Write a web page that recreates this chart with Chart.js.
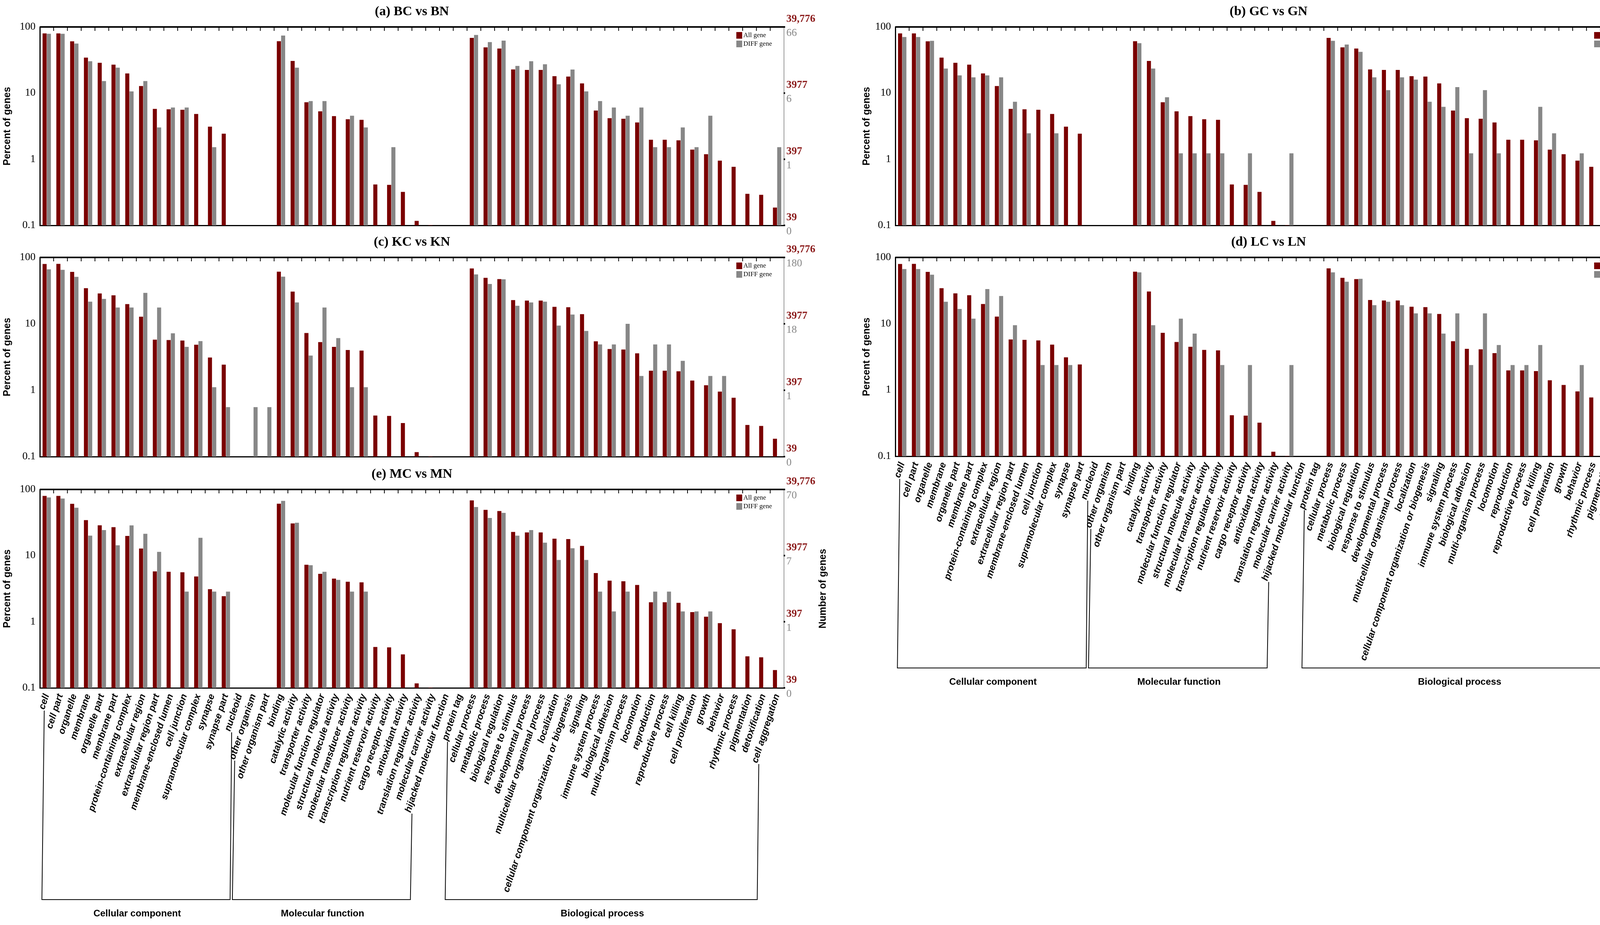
<!DOCTYPE html>
<html>
<head>
<meta charset="utf-8">
<script src="https://cdn.jsdelivr.net/npm/chart.js@4.4.1/dist/chart.umd.min.js"></script>
<style>
  body { margin: 0; background: #fff; width: 4324px; height: 2368px; position: relative; overflow: hidden; }
  canvas { position: absolute; }
</style>
</head>
<body>
<canvas id="pa" style="left:0px;top:0px"></canvas>
<canvas id="pb" style="left:2200px;top:0px"></canvas>
<canvas id="pc" style="left:0px;top:580px"></canvas>
<canvas id="pd" style="left:2200px;top:580px"></canvas>
<canvas id="pe" style="left:0px;top:1180px"></canvas>
<script>
// GO categories (x axis)
const categories = [
  'cell', 'cell part', 'organelle', 'membrane', 'organelle part', 'membrane part',
  'protein-containing complex', 'extracellular region', 'extracellular region part',
  'membrane-enclosed lumen', 'cell junction', 'supramolecular complex', 'synapse',
  'synapse part', 'nucleoid', 'other organism', 'other organism part',
  'binding', 'catalytic activity', 'transporter activity', 'molecular function regulator',
  'structural molecule activity', 'molecular transducer activity', 'transcription regulator activity',
  'nutrient reservoir activity', 'cargo receptor activity', 'antioxidant activity',
  'translation regulator activity', 'molecular carrier activity', 'hijacked molecular function',
  'protein tag', 'cellular process', 'metabolic process', 'biological regulation',
  'response to stimulus', 'developmental process', 'multicellular organismal process',
  'localization', 'cellular component organization or biogenesis', 'signaling',
  'immune system process', 'biological adhesion', 'multi-organism process', 'locomotion',
  'reproduction', 'reproductive process', 'cell killing', 'cell proliferation', 'growth',
  'behavior', 'rhythmic process', 'pigmentation', 'detoxification', 'cell aggregation'
];

// group brackets: [label, first index, last index]
const groups = [
  ['Cellular component', 0, 14],
  ['Molecular function', 15, 29],
  ['Biological process', 30, 53]
];

// percent of all genes (same in every panel)
const allGene = [
  79.8, 80, 60.6, 34.4, 28.7, 26.9, 19.8, 12.8, 5.78, 5.7, 5.6, 4.84, 3.11, 2.43, null, null, null,
  60.9, 30.6, 7.28, 5.3, 4.49, 4.03, 3.95, 0.416, 0.41, 0.321, 0.117, 0.101, null,
  null, 68.3, 49.2, 47.1, 22.8, 22.4, 22.4, 18.0, 17.8, 14.0, 5.45, 4.18, 4.1, 3.6,
  1.97, 1.97, 1.93, 1.4, 1.19, 0.953, 0.77, 0.3, 0.29, 0.186
];

// percent of DIFF genes per comparison
const diffBC = [
  78.8, 78.8, 56.1, 30.3, 15.2, 24.2, 10.6, 15.2, 3.03, 6.06, 6.06, null, 1.52, null, null, null, null,
  74.2, 24.2, 7.58, 7.58, null, 4.55, 3.03, null, 1.52, null, null, null, null,
  null, 75.8, 59.1, 62.1, 25.8, 30.3, 27.3, 13.6, 22.7, 10.6, 7.58, 6.06, 4.55, 6.06,
  1.52, 1.52, 3.03, 1.52, 4.55, null, null, null, null, 1.52
];
const diffGC = [
  70.4, 70.4, 61.7, 23.5, 18.5, 17.3, 18.5, 17.3, 7.4, 2.47, null, 2.47, null, null, null, null, null,
  56.8, 23.5, 8.64, 1.23, 1.23, 1.23, 1.23, null, 1.23, null, null, 1.23, null,
  null, 61.7, 54.3, 42.0, 17.3, 11.1, 17.3, 16.0, 7.4, 6.2, 12.3, 1.23, 11.1, 1.23,
  null, null, 6.2, 2.47, null, 1.23, null, 1.23, null, null
];
const diffKC = [
  66.1, 65, 50.9, 21.6, 23.7, 17.6, 17.6, 29.3, 17.6, 7.2, 4.5, 5.5, 1.11, 0.556, null, 0.556, 0.556,
  51.4, 21, 3.33, 17.6, 6.1, 1.11, 1.11, null, null, null, null, null, null,
  null, 55.5, 39.8, 46.8, 18.7, 21, 21.6, 9.4, 13.8, 7.8, 4.9, 4.9, 10, 1.64,
  4.9, 4.9, 2.77, null, 1.64, 1.64, null, null, null, null
];
const diffLC = [
  66.7, 66.7, 54.8, 21.4, 16.7, 11.9, 33.3, 26.2, 9.5, null, 2.38, 2.38, 2.38, null, null, null, null,
  59.5, 9.5, null, 11.9, 7.1, null, 2.38, null, 2.38, null, null, 2.38, null,
  null, 59.5, 42.9, 47.6, 19.0, 21.4, 19.0, 14.3, 14.3, 7.1, 14.3, 2.38, 14.3, 4.76,
  2.38, 2.38, 4.76, null, null, 2.38, null, null, null, null
];
const diffMC = [
  75.7, 72.9, 52.9, 20, 24.3, 14.3, 28.6, 21.4, 11.4, null, 2.86, 18.6, 2.86, 2.86, null, null, null,
  67.1, 31.4, 7.14, 5.7, 4.3, 2.86, 2.86, null, null, null, null, null, null,
  null, 54.3, 37.1, 44.3, 20, 24.3, 15.7, 8.6, 12.9, 8.6, 2.86, 1.43, 2.86, null,
  2.86, 2.86, 1.43, 1.43, 1.43, null, null, null, null, null
];

// right axis labels: number of all genes (red) and DIFF genes (gray) at 100, 10, 1, 0.1 %
const allGeneTicks = ['39,776', '3977', '397', '39'];
const diffTicksBC = ['66', '6', '1', '0'];
const diffTicksGC = ['81', '8', '1', '0'];
const diffTicksKC = ['180', '18', '1', '0'];
const diffTicksLC = ['42', '4', '1', '0'];
const diffTicksMC = ['70', '7', '1', '0'];

const RED = '#7a0000';
const GRAY = '#878787';
const LABEL_ROT = 72;

const panelDeco = {
  id: 'panelDeco',
  afterDraw(chart, args, o) {
    const ctx = chart.ctx;
    const a = chart.chartArea;
    const y = chart.scales.y;
    const x = chart.scales.x;
    ctx.save();
    // title
    ctx.fillStyle = '#000';
    ctx.font = 'bold 34px "Liberation Serif"';
    ctx.textAlign = 'center';
    ctx.textBaseline = 'bottom';
    ctx.fillText(o.title, (a.left + a.right) / 2, a.top - 22);
    // frame
    ctx.strokeStyle = '#000';
    ctx.lineWidth = 4;
    ctx.beginPath(); ctx.moveTo(a.left, a.top); ctx.lineTo(a.right, a.top); ctx.stroke();
    ctx.strokeStyle = '#999';
    ctx.lineWidth = 2;
    ctx.beginPath(); ctx.moveTo(a.right, a.top); ctx.lineTo(a.right, a.bottom); ctx.stroke();
    // category ticks at top
    ctx.strokeStyle = '#000';
    ctx.lineWidth = 2;
    const cw = (a.right - a.left) / categories.length;
    for (let i = 1; i < categories.length; i++) {
      const px = a.left + i * cw;
      ctx.beginPath(); ctx.moveTo(px, a.top); ctx.lineTo(px, a.top + 10); ctx.stroke();
    }
    // right axis numbers
    ctx.textAlign = 'left';
    ctx.textBaseline = 'middle';
    [100, 10, 1, 0.1].forEach((v, i) => {
      const py = y.getPixelForValue(v);
      ctx.font = 'bold 27px "Liberation Serif"';
      ctx.fillStyle = '#8b1a1a';
      ctx.fillText(allGeneTicks[i], a.right + 6, py - 20);
      ctx.font = '27px "Liberation Serif"';
      ctx.fillStyle = GRAY;
      ctx.fillText(o.diffTicks[i], a.right + 6, py + 16);
      ctx.fillStyle = '#000';
      ctx.fillRect(a.right - 1, py - 2, 4, 4);
    });
    if (o.numTitle) {
      ctx.save();
      ctx.translate(a.right + 100, (a.top + a.bottom) / 2);
      ctx.rotate(-Math.PI / 2);
      ctx.textAlign = 'center';
      ctx.fillStyle = '#000';
      ctx.font = 'bold 25px "Liberation Sans"';
      ctx.fillText('Number of genes', 0, 0);
      ctx.restore();
    }
    // legend
    ctx.font = '17px "Liberation Serif"';
    ctx.textBaseline = 'middle';
    ctx.fillStyle = RED;
    ctx.fillRect(a.right - 122, a.top + 13, 15, 17);
    ctx.fillStyle = GRAY;
    ctx.fillRect(a.right - 122, a.top + 35, 15, 17);
    ctx.fillStyle = '#000';
    ctx.fillText('All gene', a.right - 104, a.top + 22);
    ctx.fillText('DIFF gene', a.right - 104, a.top + 44);
    // group brackets below rotated labels
    if (o.showX) {
      const th = LABEL_ROT * Math.PI / 180;
      ctx.font = 'italic bold 24px "Liberation Sans"';
      const y0 = a.bottom + 14;
      const endPt = i => {
        const w = ctx.measureText(categories[i]).width;
        const px = x.getPixelForValue(i) + 6;
        return { x: px - w * Math.cos(th), y: y0 + w * Math.sin(th) };
      };
      ctx.strokeStyle = '#000';
      ctx.lineWidth = 2;
      groups.forEach(([name, i0, i1]) => {
        const L = endPt(i0), R = endPt(i1);
        ctx.beginPath();
        ctx.moveTo(L.x, L.y + 6);
        ctx.lineTo(L.x - 6, o.base);
        ctx.lineTo(R.x, o.base);
        ctx.lineTo(R.x + 4, R.y + 6);
        ctx.stroke();
        ctx.save();
        ctx.font = 'bold 24px "Liberation Sans"';
        ctx.textAlign = 'center';
        ctx.fillStyle = '#000';
        ctx.fillText(name, (L.x + R.x) / 2, o.base + 36);
        ctx.restore();
      });
    }
    ctx.restore();
  }
};

function makePanel(id, w, h, top, bottomGap, leftW, rightPad, title, diff, diffTicks, showX, numTitle, base) {
  const el = document.getElementById(id);
  el.width = w; el.height = h;
  el.style.width = w + 'px'; el.style.height = h + 'px';
  const xH = showX ? bottomGap : 0;
  return new Chart(el.getContext('2d'), {
    type: 'bar',
    data: {
      labels: categories,
      datasets: [
        { label: 'All gene', data: allGene, backgroundColor: RED, barPercentage: 0.95, categoryPercentage: 0.62 },
        { label: 'DIFF gene', data: diff, backgroundColor: GRAY, barPercentage: 0.95, categoryPercentage: 0.62 }
      ]
    },
    options: {
      responsive: false,
      animation: false,
      devicePixelRatio: 1,
      layout: { padding: { top: top, right: rightPad, bottom: showX ? 0 : bottomGap, left: 0 } },
      plugins: {
        legend: { display: false },
        tooltip: { enabled: false },
        panelDeco: { title: title, diffTicks: diffTicks, showX: showX, numTitle: numTitle, base: base }
      },
      scales: {
        x: {
          grid: { display: false },
          border: { color: '#000', width: 3 },
          ticks: {
            display: showX, autoSkip: false, minRotation: LABEL_ROT, maxRotation: LABEL_ROT,
            color: '#000', padding: 4,
            font: { family: 'Liberation Sans', style: 'italic', weight: 'bold', size: 24 }
          },
          afterFit: s => { s.height = xH; }
        },
        y: {
          type: 'logarithmic', min: 0.1, max: 100,
          grid: { display: false },
          border: { color: '#000', width: 3 },
          afterBuildTicks: s => { s.ticks = [0.1, 1, 10, 100].map(v => ({ value: v })); },
          ticks: { color: '#000', font: { family: 'Liberation Serif', size: 27 }, callback: v => String(v) },
          title: { display: true, text: 'Percent of genes', color: '#000', font: { family: 'Liberation Sans', weight: 'bold', size: 25 } },
          afterFit: s => { s.width = leftW; }
        }
      }
    },
    plugins: [panelDeco]
  });
}

makePanel('pa', 2130, 610, 69, 33, 102, 123, '(a) BC vs BN', diffBC, diffTicksBC, false, false, 0);
makePanel('pb', 2124, 610, 69, 33, 92, 121, '(b) GC vs GN', diffGC, diffTicksGC, false, true, 0);
makePanel('pc', 2130, 630, 79, 41, 102, 123, '(c) KC vs KN', diffKC, diffTicksKC, false, false, 0);
makePanel('pd', 2124, 1180, 79, 592, 92, 121, '(d) LC vs LN', diffLC, diffTicksLC, true, true, 1130);
makePanel('pe', 2130, 1188, 73, 607, 102, 123, '(e) MC vs MN', diffMC, diffTicksMC, true, true, 1123);
</script>
</body>
</html>
